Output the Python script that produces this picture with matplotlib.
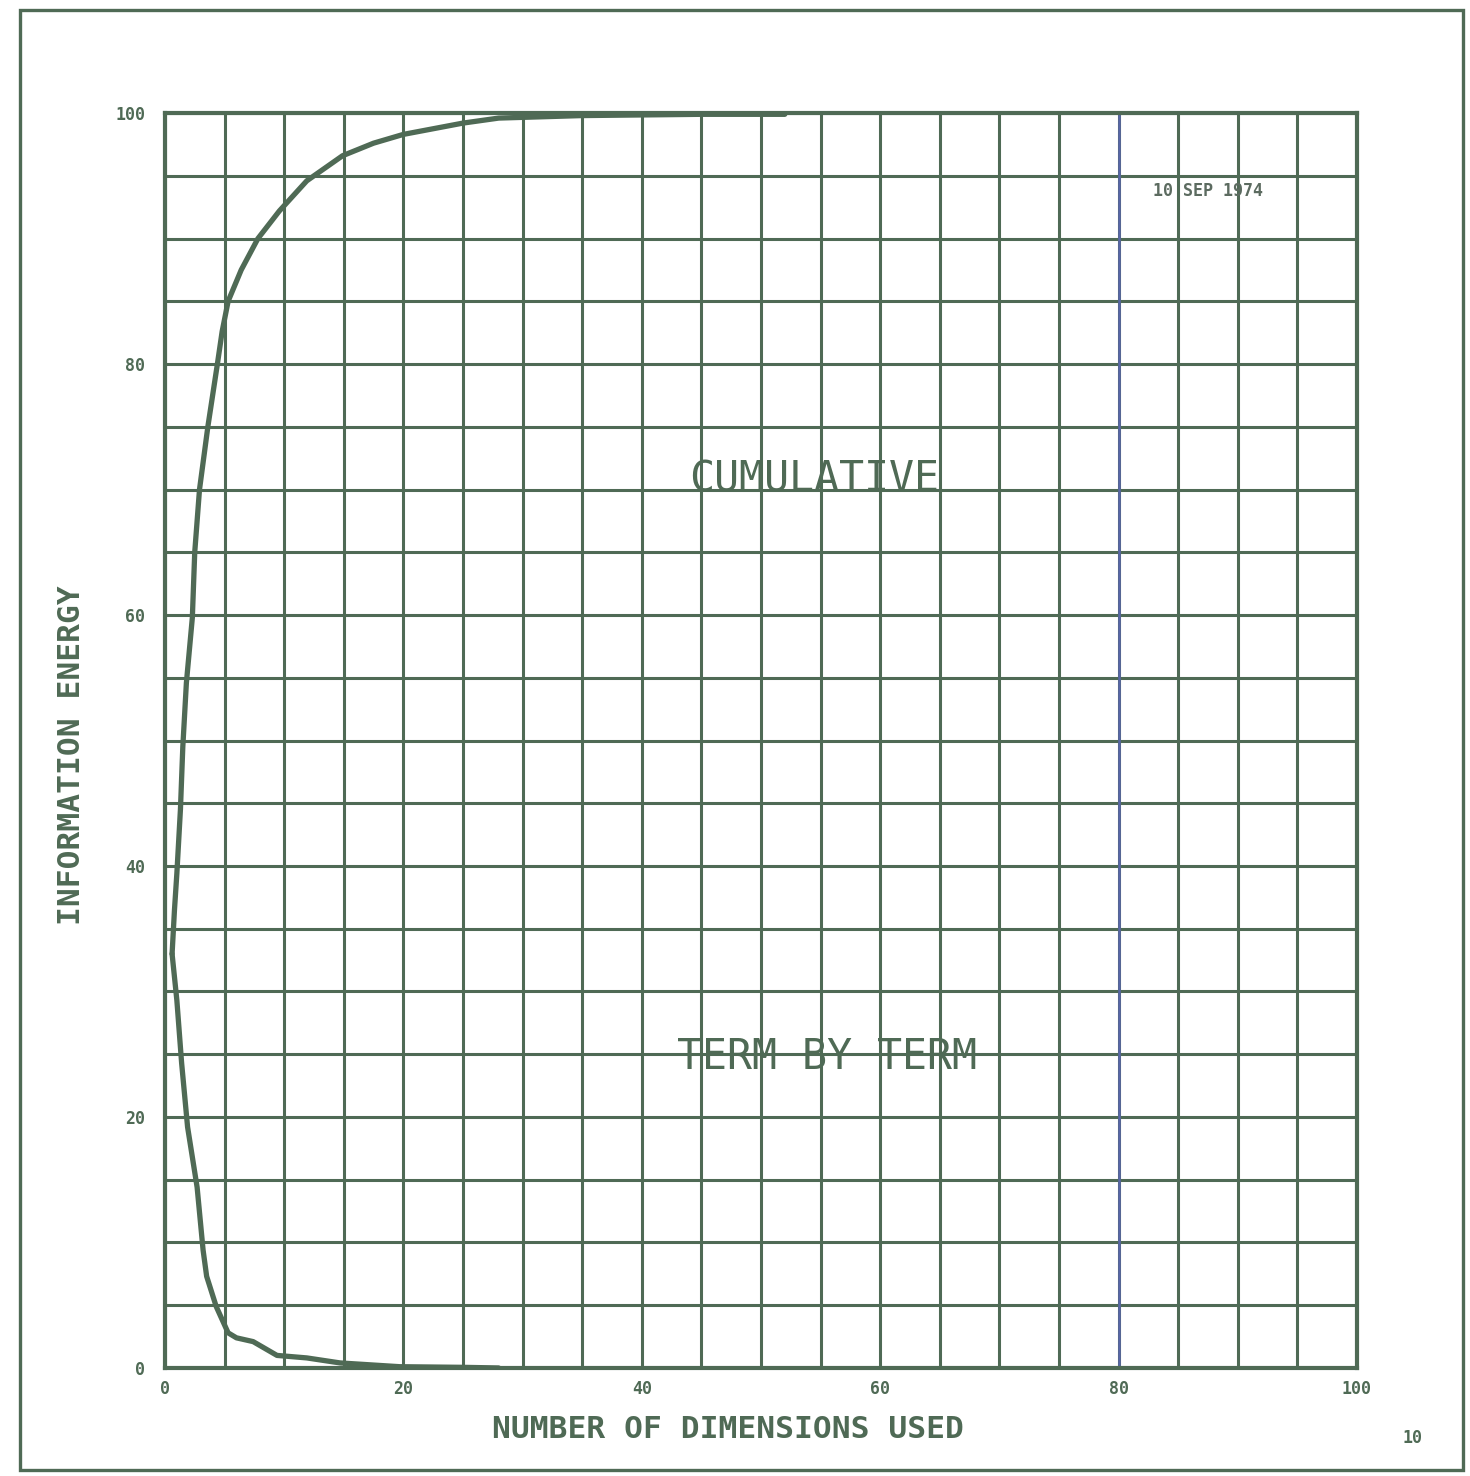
import numpy as np
import matplotlib.pyplot as plt
from matplotlib.patches import Rectangle

# Cumulative information energy vs number of dimensions
cum_x = [0.6, 0.8, 1.0, 1.3, 1.5, 1.8, 2.3, 2.5, 2.9, 3.6, 4.4, 4.8, 5.3, 6.4,
         7.8, 9.6, 11.9, 14.9, 17.5, 20.0, 25.0, 28.0, 35.0, 45.0, 52.0]
cum_y = [33.0, 36.5, 39.4, 44.5, 49.5, 54.6, 59.8, 65.0, 70.0, 75.0, 80.0, 82.6,
         85.0, 87.5, 90.0, 92.2, 94.6, 96.6, 97.6, 98.3, 99.2, 99.6, 99.8, 99.9, 99.9]

# Term-by-term contribution
term_x = [0.6, 1.0, 1.4, 1.9, 2.7, 3.2, 3.5, 4.3, 5.3, 6.0, 7.4, 9.4, 11.9,
          14.7, 19.7, 25.0, 28.0]
term_y = [33.0, 29.3, 24.3, 19.2, 14.4, 9.4, 7.3, 4.9, 2.8, 2.4, 2.1, 1.0, 0.8,
          0.4, 0.1, 0.05, 0.0]

tick_vals = [0, 20, 40, 60, 80, 100]
tick_labels = ['0', '20', '40', '60', '80', '100']

ink = '#4f6a55'
mono = 'DejaVu Sans Mono'

fig = plt.figure(figsize=(14.7, 14.76), dpi=100, facecolor='white')
ax = fig.add_axes([0.1122, 0.0732, 0.8109, 0.8502])
ax.set_xlim(0, 100)
ax.set_ylim(0, 100)

# 5-unit grid, labels every 20
ax.set_xticks(tick_vals)
ax.set_yticks(tick_vals)
ax.set_xticklabels(tick_labels, fontfamily=mono, fontweight='bold', fontsize=12, color=ink)
ax.set_yticklabels(tick_labels, fontfamily=mono, fontweight='bold', fontsize=12, color=ink)
ax.set_xticks(np.arange(0, 101, 5), minor=True)
ax.set_yticks(np.arange(0, 101, 5), minor=True)
ax.tick_params(which='both', length=0)
ax.tick_params(axis='x', pad=9)
ax.tick_params(axis='y', pad=14)
ax.grid(True, which='both', color=ink, linewidth=2.2)
ax.set_axisbelow(True)

# scan artefact: the 80 line comes out bluish
ax.axvline(80, color='#5866a8', linewidth=1.8, zorder=1)

for spine in ax.spines.values():
    spine.set_color(ink)
    spine.set_linewidth(3)

ax.plot(cum_x, cum_y, color=ink, linewidth=3.8, solid_capstyle='round',
        solid_joinstyle='round', zorder=3)
ax.plot(term_x, term_y, color=ink, linewidth=3.8, solid_capstyle='round',
        solid_joinstyle='round', zorder=3)

ax.text(0.545, 0.708, 'CUMULATIVE', transform=ax.transAxes, ha='center', va='center',
        fontfamily=mono, fontsize=30, color=ink)
ax.text(0.555, 0.248, 'TERM BY TERM', transform=ax.transAxes, ha='center', va='center',
        fontfamily=mono, fontsize=30, color=ink)
ax.text(0.875, 0.938, '10 SEP 1974', transform=ax.transAxes, ha='center', va='center',
        fontfamily=mono, fontweight='bold', fontsize=12, color='#5c6b60')

fig.text(72 / 1470, 1 - 755 / 1476, 'INFORMATION ENERGY', rotation=90, ha='center', va='center',
         fontfamily=mono, fontweight='bold', fontsize=22.5, color=ink)
fig.text(728 / 1470, 1 - 1430 / 1476, 'NUMBER OF DIMENSIONS USED', ha='center', va='center',
         fontfamily=mono, fontweight='bold', fontsize=22.5, color=ink)
fig.text(1412 / 1470, 1 - 1438 / 1476, '10', ha='center', va='center',
         fontfamily=mono, fontweight='bold', fontsize=12, color=ink)

# page frame
fig.patches.append(Rectangle((20 / 1470, 1 - 1470 / 1476), 1443 / 1470, 1460 / 1476,
                             transform=fig.transFigure, fill=False, edgecolor=ink, linewidth=2.4))

fig.savefig('out.png', dpi=100, facecolor='white')
